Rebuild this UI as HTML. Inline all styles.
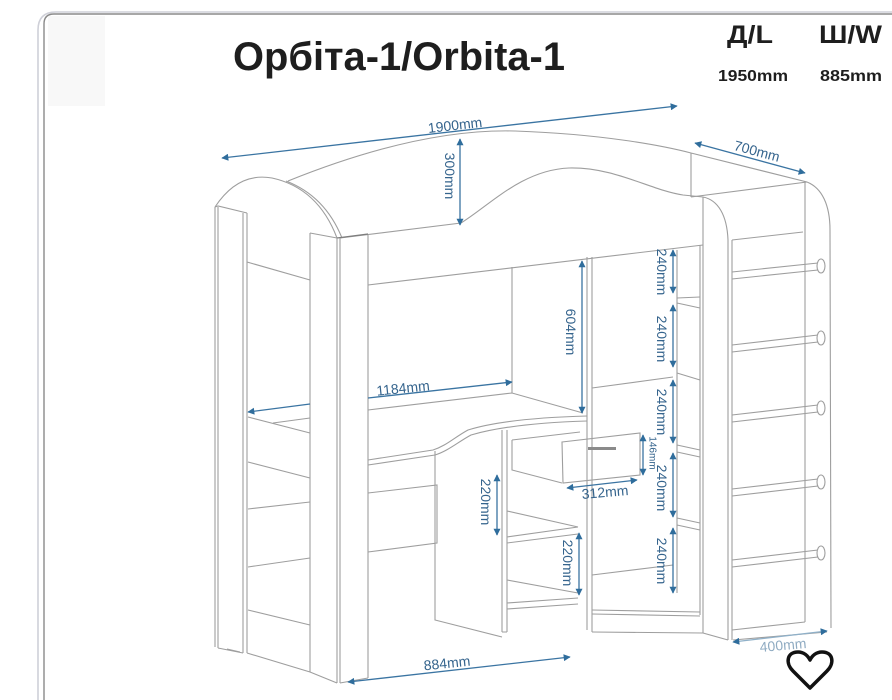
<!DOCTYPE html>
<html><head><meta charset="utf-8"><style>
html,body{margin:0;padding:0;background:#fff;}
svg{display:block;}
.l{fill:none;stroke:#9e9e9e;stroke-width:1.1;}
.d{fill:none;stroke:#7d7d7d;stroke-width:1.2;}
.a{fill:none;stroke:#3a74a2;stroke-width:1.3;}
.t{font-family:"Liberation Sans",Arial,sans-serif;fill:#35648d;font-size:14px;text-anchor:middle;dominant-baseline:central;}
</style></head><body>
<svg width="892" height="700" viewBox="0 0 892 700" xmlns="http://www.w3.org/2000/svg">
<defs>
<marker id="m" viewBox="0 0 10 10" refX="9" refY="5" markerWidth="10" markerHeight="7" orient="auto-start-reverse" markerUnits="userSpaceOnUse"><path d="M0,0 L10,5 L0,10 z" fill="#2f6d9c"/></marker>
</defs>
<!-- frame -->
<rect x="48" y="16" width="57" height="90" fill="#f8f8f8"/>
<path d="M38,700 L38,30 Q38,12 56,12 L892,12" fill="none" stroke="#cfd0d8" stroke-width="1.6"/>
<path d="M44,700 L44,24 Q44,14 54,14 L892,14" fill="none" stroke="#8a8a8a" stroke-width="1.4"/>

<!-- title -->
<text x="233" y="70" font-family="Liberation Sans, Arial, sans-serif" font-weight="bold" font-size="40" fill="#1e1e1e" textLength="332" lengthAdjust="spacingAndGlyphs">Орбіта-1/Orbita-1</text>
<text x="727" y="43" font-family="Liberation Sans, Arial, sans-serif" font-weight="bold" font-size="25" fill="#1e1e1e" textLength="46" lengthAdjust="spacingAndGlyphs">Д/L</text>
<text x="819" y="43" font-family="Liberation Sans, Arial, sans-serif" font-weight="bold" font-size="25" fill="#1e1e1e" textLength="63" lengthAdjust="spacingAndGlyphs">Ш/W</text>
<text x="718" y="81" font-family="Liberation Sans, Arial, sans-serif" font-weight="bold" font-size="16" fill="#1e1e1e" textLength="70" lengthAdjust="spacingAndGlyphs">1950mm</text>
<text x="820" y="81" font-family="Liberation Sans, Arial, sans-serif" font-weight="bold" font-size="16" fill="#1e1e1e" textLength="62" lengthAdjust="spacingAndGlyphs">885mm</text>

<!-- furniture lines -->
<g>
<!-- left post -->
<path class="l" d="M215,207 L215,647 M218,207 L218,648 M243,213 L243,653 M247,213 L247,653 M215,207 L218,206 L247,213"/>
<path class="l" d="M218,648 L243,653 M247,653 L310,672 L337,683 M227,649 L240,652"/>
<!-- left arch -->
<path class="l" d="M215,207 Q238,172 272,178 Q318,188 337,238"/>
<path class="l" d="M286,181 Q325,196 342,238"/>
<!-- long top back -->
<path class="l" d="M288,181 C360,152 440,129 515,131 C600,134 660,145 691,153"/>
<!-- bed front rail -->
<path class="l" d="M340,238 L461,223 C490,205 522,170 569,168 C615,167 650,190 683,195 L703,197"/>
<path class="d" d="M337,238 L368,234"/>
<path class="l" d="M310,233 L337,238"/>
<!-- right back corner and side top -->
<path class="l" d="M691,153 L691,197 M691,153 L807,182 M691,197 L807,182"/>
<!-- ladder unit -->
<path class="l" d="M807,182 C822,188 830,205 830,230 L831,628 M805,182 L805,622"/>
<path class="l" d="M703,197 L703,633 M703,197 C718,200 727,215 728,240 L728,640 M732,240 L732,640 M703,633 L728,640"/>
<path class="l" d="M732,240 L803,232 M732,630 L805,622 M733,640 L827,632"/>
<!-- rungs -->
<path class="l" d="M732,272 L818,263 M732,279 L818,270 M732,345 L818,335 M732,352 L818,342 M732,415 L818,405 M732,422 L818,412 M732,489 L818,479 M732,496 L818,486 M732,560 L818,550 M732,567 L818,557"/>
<g fill="#fff" stroke="#9e9e9e" stroke-width="1.1">
<ellipse cx="821" cy="266" rx="4" ry="7"/><ellipse cx="821" cy="338" rx="4" ry="7"/><ellipse cx="821" cy="408" rx="4" ry="7"/><ellipse cx="821" cy="482" rx="4" ry="7"/><ellipse cx="821" cy="553" rx="4" ry="7"/>
</g>
<!-- posts -->
<path class="l" d="M310,233 L310,672 M337,238 L337,683 M340,238 L340,683 M368,235 L368,678 M340,683 L368,678"/>
<!-- bed bottom -->
<path class="l" d="M368,285 L703,245"/>
<!-- left unit shelves -->
<path class="l" d="M247,262 L310,280 M248,417 L310,433 M273,423 L310,418 M248,462 L310,478 M248,509 L310,502 M248,567 L310,558 M248,610 L310,625"/>
<!-- desk alcove -->
<path class="l" d="M512,267 L512,393 M587,257 L587,630 M592,257 L592,632"/>
<path class="l" d="M368,410 L512,393 L583,413"/>
<path class="l" d="M368,460 L433,450 C446,446 455,437 468,430 C500,420 550,417 587,416"/>
<path class="l" d="M368,465 L435,455 C448,451 458,442 471,435 C505,425 555,422 587,421"/>
<!-- pedestal -->
<path class="l" d="M368,493 L437,485 L437,543 L368,552 M435,451 L435,620 L502,637"/>
<!-- cubby -->
<path class="l" d="M502,430 L502,632 M507,430 L507,632 M507,511 L578,527 M507,537 L578,527 M507,543 L578,534 M507,580 L578,593 M507,603 L578,598 M507,609 L578,604 M502,632 L507,632"/>
<!-- drawer -->
<path class="l" d="M512,440 L580,432 M512,440 L512,470 L562,483"/>
<path class="l" d="M562,442 L640,433 L640,475 L563,483 Z" fill="#fff"/>
<rect x="588" y="447" width="28" height="3" fill="#8a8a8a"/>
<!-- right shelves area -->
<path class="l" d="M592,388 L673,377 M592,575 L673,565 M592,610 L700,612 M592,614 L700,616 M592,632 L703,633"/>
<path class="l" d="M677,250 L677,593 M677,298 L700,297 M677,303 L700,308 M677,373 L700,380 M677,445 L700,450 M677,452 L700,457 M677,518 L700,523 M677,525 L700,530"/>
<path class="l" d="M700,245 L700,615"/>
</g>

<!-- dimension arrows -->
<g class="a">
<path d="M222,158 L677,106" marker-start="url(#m)" marker-end="url(#m)"/>
<path d="M460,139 L460,225" marker-start="url(#m)" marker-end="url(#m)"/>
<path d="M695,143 L805,173" marker-start="url(#m)" marker-end="url(#m)"/>
<path d="M582,261 L582,413" marker-start="url(#m)" marker-end="url(#m)"/>
<path d="M673,250 L673,293" marker-start="url(#m)" marker-end="url(#m)"/>
<path d="M673,305 L673,367" marker-start="url(#m)" marker-end="url(#m)"/>
<path d="M673,380 L673,443" marker-start="url(#m)" marker-end="url(#m)"/>
<path d="M673,453 L673,517" marker-start="url(#m)" marker-end="url(#m)"/>
<path d="M673,528 L673,593" marker-start="url(#m)" marker-end="url(#m)"/>
<path d="M643,435 L643,475" marker-start="url(#m)" marker-end="url(#m)"/>
<path d="M567,488 L637,480" marker-start="url(#m)" marker-end="url(#m)"/>
<path d="M497,475 L497,535" marker-start="url(#m)" marker-end="url(#m)"/>
<path d="M579,533 L579,595" marker-start="url(#m)" marker-end="url(#m)"/>
<path d="M248,412 L310,404" marker-start="url(#m)"/>
<path d="M368,398 L512,382" marker-end="url(#m)"/>
<path d="M348,682 L570,657" marker-start="url(#m)" marker-end="url(#m)"/>
<path d="M733,642 L827,631" stroke="#8fb0c8" marker-start="url(#m)" marker-end="url(#m)"/>
</g>

<!-- dimension labels -->
<text class="t" x="455" y="125" transform="rotate(-6.5 455 125)">1900mm</text>
<text class="t" x="450" y="176" transform="rotate(90 450 176)">300mm</text>
<text class="t" x="757" y="151" transform="rotate(15 757 151)">700mm</text>
<text class="t" x="571" y="332" transform="rotate(90 571 332)">604mm</text>
<text class="t" x="662" y="272" transform="rotate(90 662 272)">240mm</text>
<text class="t" x="662" y="339" transform="rotate(90 662 339)">240mm</text>
<text class="t" x="662" y="412" transform="rotate(90 662 412)">240mm</text>
<text class="t" x="662" y="488" transform="rotate(90 662 488)">240mm</text>
<text class="t" x="662" y="561" transform="rotate(90 662 561)">240mm</text>
<text class="t" x="652" y="453" style="font-size:10px" transform="rotate(90 652 453)">146mm</text>
<text class="t" x="605" y="492" transform="rotate(-5 605 492)">312mm</text>
<text class="t" x="486" y="502" transform="rotate(90 486 502)">220mm</text>
<text class="t" x="568" y="563" transform="rotate(90 568 563)">220mm</text>
<text class="t" x="403" y="388" transform="rotate(-6 403 388)">1184mm</text>
<text class="t" x="447" y="663" transform="rotate(-6 447 663)">884mm</text>
<text class="t" x="783" y="645" style="fill:#8fabc2" transform="rotate(-5 783 645)">400mm</text>

<!-- heart -->
<path d="M810,688 L793,671 C785,663 787,652 798,652 C804,652 808,656 810,660 C812,656 816,652 822,652 C833,652 835,663 827,671 Z" fill="none" stroke="#111" stroke-width="3.5" stroke-linejoin="round"/>
</svg>
</body></html>
